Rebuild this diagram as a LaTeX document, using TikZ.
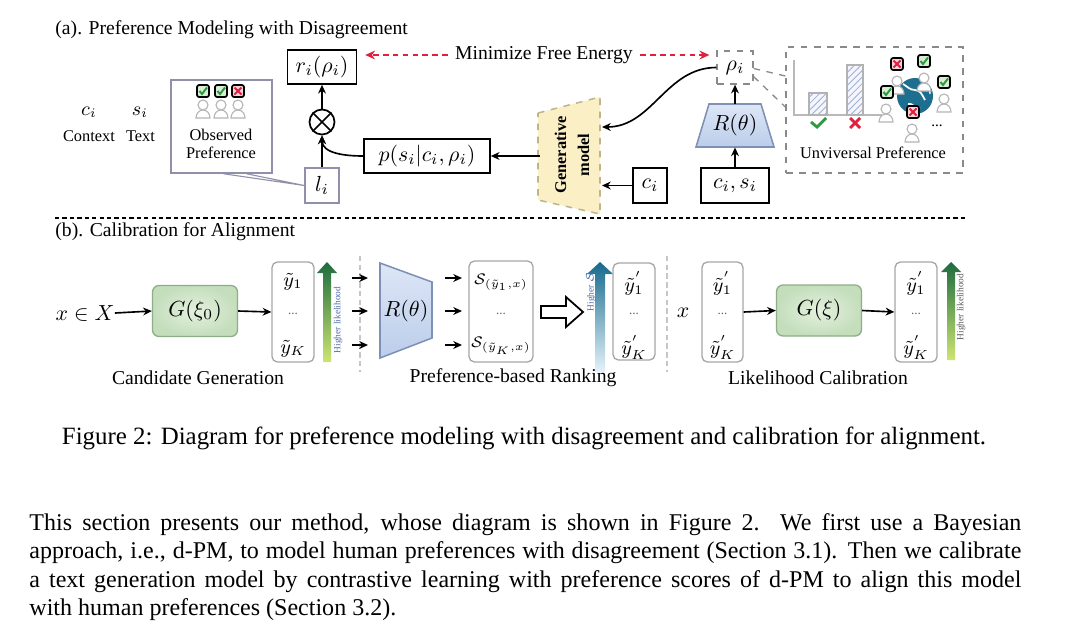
\documentclass[tikz,border=0pt]{standalone}
\usepackage{fontspec}
\setmainfont{Liberation Serif}
\usetikzlibrary{arrows.meta,patterns,calc}
\def\PX{0.458pt}
\newcommand\fsnine{\fontsize{9}{10.8}\selectfont}
\newcommand\fsten{\fontsize{10}{12}\selectfont}
\newcommand\fssmall{\fontsize{7.5}{8.2}\selectfont}
\newcommand\fstiny{\fontsize{4.3}{5}\selectfont}
\definecolor{redd}{HTML}{E0203C}
\definecolor{dgray}{HTML}{8A8A8A}
\definecolor{pgray}{HTML}{9090AA}
\definecolor{genfill}{HTML}{FBEFC6}
\definecolor{genbord}{HTML}{BDB58C}
\definecolor{rtop}{HTML}{DCE6F6}
\definecolor{rbot}{HTML}{BCCDEB}
\definecolor{rbord}{HTML}{7F90B5}
\definecolor{ginner}{HTML}{E4F1DE}
\definecolor{gouter}{HTML}{C4DEBC}
\definecolor{gbord}{HTML}{8DAE88}
\definecolor{gdark}{HTML}{1D6B3F}
\definecolor{glight}{HTML}{CDE572}
\definecolor{bdark}{HTML}{17698D}
\definecolor{blight}{HTML}{E4F3FA}
\definecolor{hlblue}{HTML}{4E6AA8}
\definecolor{chkgreen}{HTML}{2E9A3E}
\definecolor{chkfill}{HTML}{D7EDD5}
\definecolor{crsfill}{HTML}{F6D3DC}
\definecolor{globecol}{HTML}{1E6F8F}
\definecolor{personcol}{HTML}{B5B5B5}
\definecolor{hatch}{HTML}{9FB2CF}
\tikzset{
  person/.pic={
    \draw[personcol, line width=0.5pt, fill=white] (-7,15) to[out=90,in=180] (0,7) to[out=0,in=90] (7,15) -- cycle;
    \draw[personcol, line width=0.5pt, fill=white] (0,2) circle[radius=5];
  },
  chkb/.pic={
    \draw[line width=0.8pt, rounded corners=1pt, fill=chkfill] (-6,-6) rectangle (6,6);
    \draw[chkgreen, line width=0.9pt] (-3.5,0) -- (-1,3) -- (4,-3.5);
  },
  crsb/.pic={
    \draw[line width=0.8pt, rounded corners=1pt, fill=crsfill] (-6,-6) rectangle (6,6);
    \draw[redd, line width=0.9pt] (-3.5,-3.5) -- (3.5,3.5) (-3.5,3.5) -- (3.5,-3.5);
  }
}
\begin{document}
\begin{tikzpicture}[x=0.458pt,y=-0.458pt, font=\fsnine,
  box/.style={draw, line width=0.75pt, inner sep=0pt, font=\fsten},
  arr/.style={-{Stealth[length=4pt,width=3.6pt]}, line width=0.75pt},
  redarr/.style={-{Stealth[length=4.5pt,width=4pt]}, line width=0.9pt, draw=redd, dash pattern=on 2.5pt off 2pt},
  lst/.style={draw=gray!70, line width=0.6pt, rounded corners=2.5pt, inner sep=0pt, minimum width=42*\PX, minimum height=100*\PX},
  gbox/.style={draw=gbord, line width=0.6pt, rounded corners=3pt, inner color=ginner, outer color=gouter, minimum width=85*\PX, minimum height=51*\PX, inner sep=0pt, font=\fsten},
  vdash/.style={draw=gray!45, line width=0.6pt, dash pattern=on 2.5pt off 1.5pt},
  item/.style={inner sep=0pt, font=\fsnine},
  sitem/.style={inner sep=0pt, font=\fontsize{7.5}{9}\selectfont},
  dots/.style={inner sep=0pt, font=\fontsize{6}{7}\selectfont, text=gray!80!black},
  tiny/.style={rotate=90, inner sep=0pt, font=\fstiny}
]
\useasboundingbox (0,0) rectangle (1080,638);
\fill[white] (0,0) rectangle (1080,638);

% ---------------- (a) ----------------
\node[anchor=west, inner sep=0pt] (ta) at (55,30) {(a). Preference Modeling with Disagreement};

\node[box, minimum width=69*\PX, minimum height=34*\PX] (r) at (322,67) {$r_i(\rho_i)$};
\node (mfe) at (544,55) {Minimize Free Energy};
\node[draw=dgray, dashed, line width=0.6pt, minimum width=36*\PX, minimum height=33*\PX, inner sep=0pt, font=\fsten] (rho) at (735,67.5) {$\rho_i$};
\draw[redarr, shorten >=3.6pt] (mfe.west) -- (r.east |- mfe.west);
\draw[redarr, shorten >=3.2pt] (mfe.east) -- (rho.west |- mfe.east);

% generative model
\filldraw[fill=genfill, draw=genbord, dashed, line width=0.7pt] (538,113) -- (600,97) -- (600,214) -- (538,200) -- cycle;
\node[inner sep=0pt, font=\bfseries\fontsize{7.5}{10.5}\selectfont] (gen) at (573,155) {\rotatebox{90}{\begin{tabular}{@{}c@{}}Generative\\model\end{tabular}}};
\coordinate (genL) at (540,156);
\coordinate (genR1) at (602,127);
\coordinate (genR2) at (602,185.5);

\node[box, minimum width=126*\PX, minimum height=34*\PX] (p) at (427,156) {$p(s_i|c_i,\rho_i)$};
\node[box, minimum width=34*\PX, minimum height=35*\PX] (ci) at (650,185.5) {$c_i$};
\draw[arr] (genL) -- (p.east);
\draw[arr] (ci.west) -- (genR2);
\draw[arr] (rho.west) to[out=180,in=0] (genR1);

% R(theta) top
\shadedraw[top color=rtop, bottom color=rbot, draw=rbord, line width=0.7pt] (709,104) -- (761,104) -- (774,147) -- (696,147) -- cycle;
\node[minimum width=50*\PX, minimum height=43*\PX, inner sep=0pt, font=\fsten] (R1) at (735,125.5) {$R(\theta)$};
\node[box, minimum width=68*\PX, minimum height=35*\PX] (cs) at (735,185.5) {$c_i, s_i$};
\draw[arr] (R1.north) -- (rho.south);
\draw[arr] (cs.north) -- (R1.south);

% universal preference
\node[draw=dgray, dashed, line width=0.6pt, minimum width=177*\PX, minimum height=126*\PX, inner sep=0pt] (uni) at (874.5,110) {};
\node[font=\fssmall] (unit) at (873,153) {Unviversal Preference};
\draw[dgray, dashed, line width=0.6pt] ($(rho.east)+(0,1)$) -- ($(uni.west)+(0,-34)$);
\draw[dgray, dashed, line width=0.6pt] ($(rho.south east)+(0,-8)$) -- ($(uni.west)+(0,-3)$);
\draw[gray!55, line width=0.5pt] (794,60) -- (794,115) -- (882,115);
\fill[blue!4] (809,93) rectangle (827,115);
\fill[pattern=north east lines, pattern color=hatch] (809,93) rectangle (827,115);
\draw[gray!60, line width=0.5pt] (809,93) rectangle (827,115);
\fill[blue!4] (847,65) rectangle (863,115);
\fill[pattern=north east lines, pattern color=hatch] (847,65) rectangle (863,115);
\draw[gray!60, line width=0.5pt] (847,65) rectangle (863,115);
\draw[chkgreen, line width=1.3pt] (811,122) -- (817,127) -- (826,118);
\draw[redd, line width=1.3pt] (850,118) -- (860,128) (850,128) -- (860,118);
% globe
\fill[globecol] (915,96) circle[radius=18];
\draw[white, line width=0.8pt] (903,84) to[out=-30,in=180] (915,90) to[out=0,in=120] (925,100);
\draw[white, line width=0.8pt] (908,104) to[out=20,in=200] (920,108);
\draw[white, line width=0.6pt] (926,82) to[out=-60,in=90] (930,94);
\pic at (897,79) {person};
\pic at (924,76) {person};
\pic at (944,97) {person};
\pic at (886,107) {person};
\pic at (912,127) {person};
\pic at (897,64) {crsb};
\pic at (924,61) {chkb};
\pic at (944,82) {chkb};
\pic at (887,92) {chkb};
\pic at (913,112) {crsb};
\node[inner sep=0pt, font=\fontsize{7}{8}\selectfont] (udots) at (937,126) {...};

% left labels
\node[font=\fsnine] (cc) at (89,112) {$c_i$};
\node[font=\fsnine] (ss) at (140,112) {$s_i$};
\node[font=\fssmall] (ctx) at (89,136) {Context};
\node[font=\fssmall] (txt) at (140.5,136) {Text};

% observed preference
\node[draw=pgray, line width=0.7pt, minimum width=101*\PX, minimum height=93*\PX, inner sep=0pt] (obs) at (221.5,126.5) {};
\pic at (203,103) {person};
\pic at (221,103) {person};
\pic at (238,103) {person};
\pic at (203,91) {chkb};
\pic at (221,91) {chkb};
\pic at (238,91) {crsb};
\node[font=\fssmall, align=center, inner sep=0pt] (obst) at (221,144) {Observed\\Preference};

\node[draw=pgray, line width=0.7pt, minimum width=34*\PX, minimum height=35*\PX, inner sep=0pt, font=\fsten] (li) at (322,185.5) {$l_i$};
\draw[pgray, line width=0.5pt] ($(obs.south)+(2,0)$) -- ($(li.west)+(0,0)$) -- ($(obs.south)+(25,0)$);

\node[circle, draw, line width=0.8pt, minimum size=25*\PX, inner sep=0pt] (ot) at (322,122) {};
\draw[line width=0.8pt] (ot.north west) -- (ot.south east) (ot.north east) -- (ot.south west);
\draw[arr] (li.north) -- (ot.south);
\draw[arr] (ot.north) -- (r.south);
\draw[arr] (p.west) to[out=180,in=-90] (ot.south);

% separator
\draw[line width=0.6pt, dash pattern=on 2pt off 1.4pt] (55,218) -- (966,218);

% ---------------- (b) ----------------
\node[anchor=west, inner sep=0pt] (tb) at (55,232) {(b). Calibration for Alignment};

\node[inner sep=0pt, font=\fsten] (xX) at (85,313) {$x \in X$};
\node[gbox] (G0) at (195,311) {$G(\xi_0)$};
\node[lst] (L1) at (293,312) {};
\node[item] (y11) at (293,282) {$\tilde{y}_1$};
\node[dots] (y1d) at (293,314) {...};
\node[item] (y1K) at (293,349) {$\tilde{y}_K$};
\draw[arr] (xX.east) -- (G0.west);
\draw[arr] (G0.east) -- (L1.west);

\shade[top color=gdark, bottom color=glight] (323,362) -- (323,273) -- (317,273) -- (327,262) -- (337,273) -- (331,273) -- (331,362) -- cycle;
\node[tiny, text=hlblue] (hl1) at (338,320) {Higher likelihood};

\draw[vdash] (360,256) -- (360,372);
\foreach \yy/\n in {278/a,311/b,345/c}{
  \coordinate (s1\n) at (352,\yy);
  \coordinate (e1\n) at (368,\yy);
  \draw[arr] (s1\n) -- (e1\n);
  \coordinate (s2\n) at (445,\yy);
  \coordinate (e2\n) at (462,\yy);
  \draw[arr] (s2\n) -- (e2\n);
}

\shadedraw[top color=rtop, bottom color=rbot, draw=rbord, line width=0.7pt] (380,263) -- (432,282) -- (432,338) -- (380,358) -- cycle;
\node[inner sep=0pt, font=\fsten] (R2) at (406,311) {$R(\theta)$};

\node[lst, minimum width=64*\PX, minimum height=101*\PX] (SB) at (501,311.5) {};
\node[sitem] (s1) at (501,282) {$\mathcal{S}_{(\tilde{y}_1,x)}$};
\node[dots] (sd) at (501,314) {...};
\node[sitem] (sK) at (501,346) {$\mathcal{S}_{(\tilde{y}_K,x)}$};

\filldraw[fill=white, draw=black, line width=0.8pt] (541,306) -- (566,306) -- (566,297) -- (583,312) -- (566,327) -- (566,318) -- (541,318) -- cycle;

\shade[top color=bdark, bottom color=blight] (595,372) -- (595,274) -- (587,274) -- (600,262) -- (613,274) -- (605,274) -- (605,372) -- cycle;
\node[tiny, text=hlblue] (hs) at (591,292) {Higher $\mathcal{S}$};

\node[lst, minimum height=97*\PX] (L2) at (634,311.5) {};
\node[item] (y21) at (634,283) {$\tilde{y}^{'}_1$};
\node[dots] (y2d) at (634,314) {...};
\node[item] (y2K) at (634,347) {$\tilde{y}^{'}_K$};

\draw[vdash] (667,256) -- (667,372);
\node[inner sep=0pt, font=\fsten] (x2) at (683,313) {$x$};

\node[lst, minimum width=41*\PX] (L3) at (722.5,312) {};
\node[item] (y31) at (722.5,283) {$\tilde{y}^{'}_1$};
\node[dots] (y3d) at (722.5,314) {...};
\node[item] (y3K) at (722.5,347) {$\tilde{y}^{'}_K$};

\node[gbox] (Gx) at (819,310.5) {$G(\xi)$};
\node[lst] (L4) at (916,312) {};
\node[item] (y41) at (916,283) {$\tilde{y}^{'}_1$};
\node[dots] (y4d) at (916,314) {...};
\node[item] (y4K) at (916,347) {$\tilde{y}^{'}_K$};
\draw[arr] (L3.east) -- (Gx.west);
\draw[arr] (Gx.east) -- (L4.west);

\shade[top color=gdark, bottom color=glight] (947,360) -- (947,272) -- (941,272) -- (951,262) -- (961,272) -- (955,272) -- (955,360) -- cycle;
\node[tiny, text=gray!70!black] (hl2) at (961,307) {Higher likelihood};

\node (lab1) at (198,378) {Candidate Generation};
\node (lab2) at (513,378) {Preference-based Ranking};
\node (lab3) at (818,378) {Likelihood Calibration};

% caption and paragraph
\node[anchor=base, inner sep=0pt, font=\fontsize{11.4}{13.6}\selectfont] (cap) at (524,444) {Figure 2: Diagram for preference modeling with disagreement and calibration for alignment.};
\node[anchor=base west, inner sep=0pt, text width=454.3pt, align=justify, font=\fontsize{11}{13.05}\selectfont] (para) at (29,530) {This section presents our method, whose diagram is shown in Figure~2. We first use a Bayesian\linebreak approach, i.e., d-PM, to model human preferences with disagreement (Section 3.1). Then we calibrate\linebreak a text generation model by contrastive learning with preference scores of d-PM to align this model\linebreak with human preferences (Section 3.2).};
\end{tikzpicture}
\end{document}
